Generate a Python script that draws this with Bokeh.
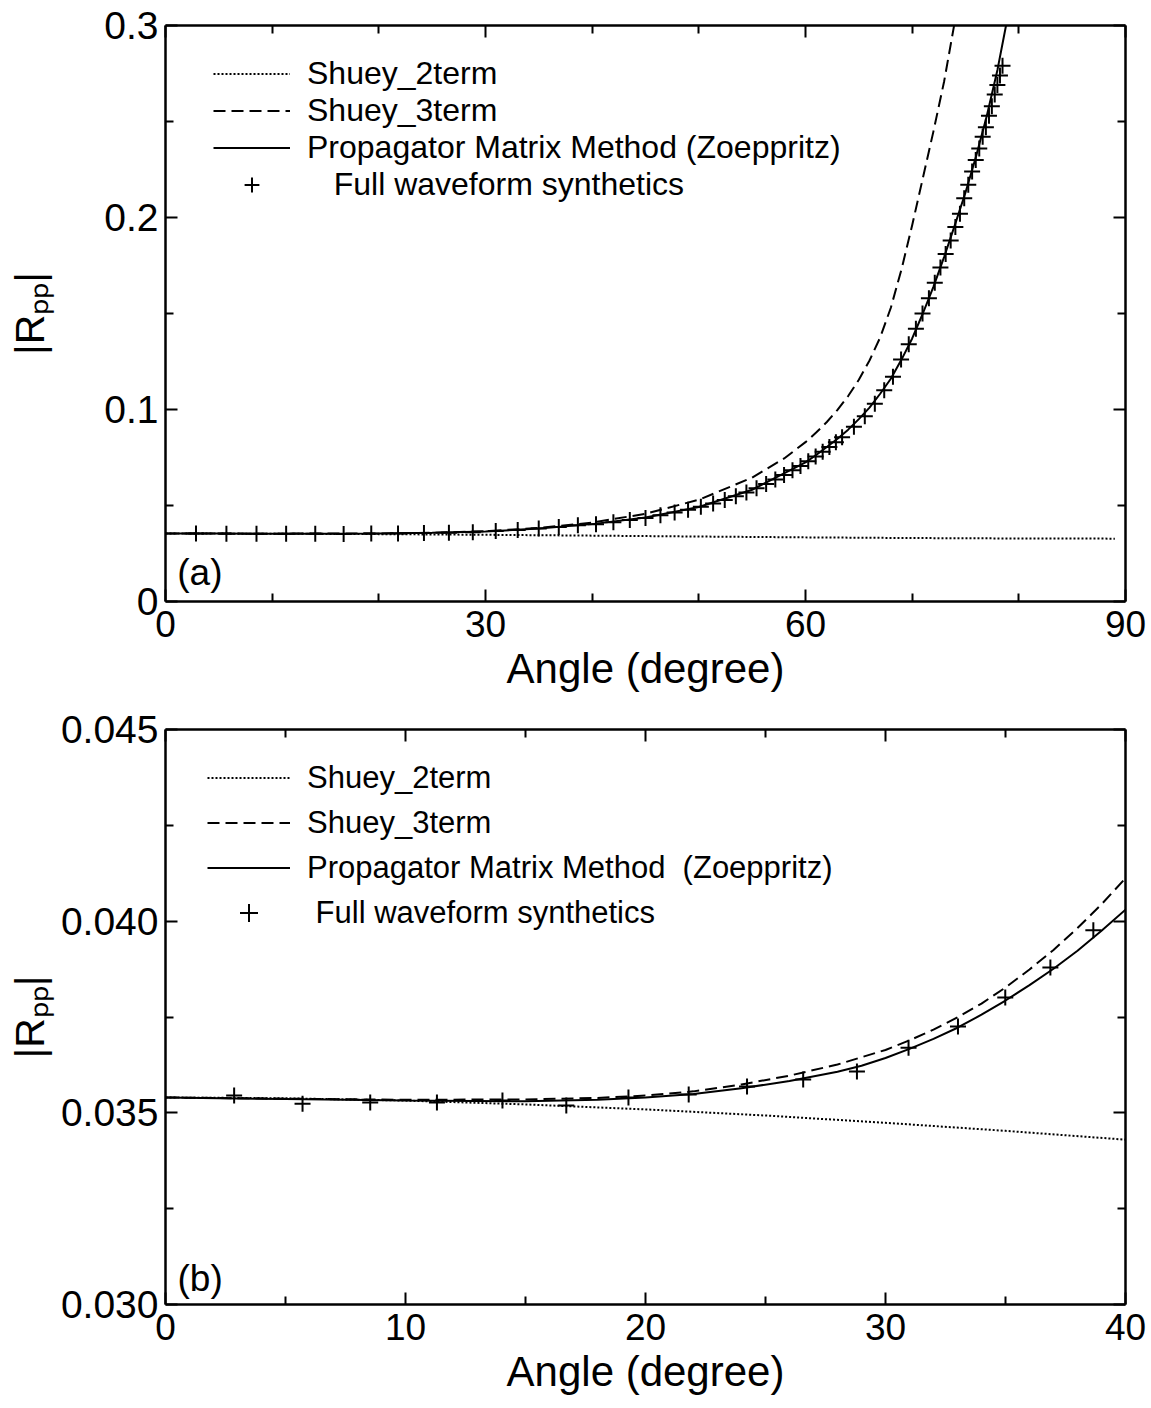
from bokeh.plotting import figure
from bokeh.models import (LinearAxis, FixedTicker, CustomJSTickFormatter, PrintfTickFormatter,
                          Label, Legend, LegendItem, Range1d)
from bokeh.layouts import column
from bokeh.embed import file_html
from bokeh.resources import INLINE

FONT = "Liberation Sans"

# ---------------- data : panel (a) ----------------
a_x_ticks = [0, 30, 60, 90]
a_x_minor = [10, 20, 40, 50, 70, 80]
a_y_ticks = [0, 0.1, 0.2, 0.3]
a_y_minor = [0.05, 0.15, 0.25]

a_shuey2_ang = [0, 10, 20, 30, 40, 50, 60, 70, 80, 89]
a_shuey2_val = [0.0354, 0.03532, 0.03509, 0.03474, 0.0343, 0.03384, 0.0334, 0.03305, 0.03282, 0.03274]

a_shuey3_ang = [0, 10, 20, 25, 30, 35, 40, 45, 50, 55, 58, 60, 61, 62, 63, 64, 65, 66, 67, 68, 69, 70,
                71, 72, 73, 73.9, 74.4]
a_shuey3_val = [0.0354, 0.03533, 0.03545, 0.0358, 0.03663, 0.0383, 0.0411, 0.0457, 0.0530, 0.0645, 0.0745,
                0.0830, 0.0880, 0.0935, 0.0998, 0.1070, 0.1155, 0.1255, 0.1375, 0.1530, 0.1730, 0.1960,
                0.2205, 0.2450, 0.2710, 0.2990, 0.3150]

a_zoep_ang = [0, 5, 10, 15, 20, 25, 30, 35, 40, 45, 50, 55, 60, 61, 62, 63, 64, 65, 66, 67, 68, 69, 70,
              71, 72, 73, 74, 75, 76, 77, 78, 78.8, 79.3]
a_zoep_val = [0.0354, 0.03536, 0.03532, 0.0353, 0.0354, 0.0358, 0.03643, 0.03797, 0.0403, 0.0437, 0.0492,
              0.0582, 0.0725, 0.0763, 0.0805, 0.0848, 0.0895, 0.0950, 0.1010, 0.1082, 0.1160, 0.1260,
              0.1370, 0.1500, 0.1640, 0.1795, 0.1960, 0.2130, 0.2320, 0.2530, 0.2770, 0.3000, 0.3150]

a_fw_ang = [2.86, 5.71, 8.53, 11.31, 14.04, 16.70, 19.29, 21.80, 24.23, 26.57, 28.81, 30.96, 33.02, 34.99,
            36.87, 38.66, 40.36, 41.99, 43.53, 45.00, 46.40, 47.73, 48.99, 50.19, 51.34, 52.43, 53.47,
            54.46, 55.41, 56.31, 57.17, 57.99, 58.78, 59.53, 60.26, 60.95, 61.61, 62.24, 62.85, 63.43,
            64.54, 65.56, 66.50, 67.38, 68.20, 68.96, 69.68, 70.35, 70.97, 71.57, 72.12, 72.65, 73.14,
            73.61, 74.05, 74.48, 74.88, 75.26, 75.62, 75.96, 76.29, 76.61, 76.91, 77.20, 77.47, 77.74,
            77.99, 78.23, 78.47]
a_fw_val = [0.03545, 0.03524, 0.03527, 0.03527, 0.03532, 0.03519, 0.03540, 0.03548, 0.03569, 0.03587,
            0.03608, 0.03670, 0.03725, 0.03801, 0.03879, 0.03976,
            0.0402, 0.0413, 0.0424, 0.0435, 0.0449, 0.0464, 0.0478, 0.0493, 0.0510, 0.0528, 0.0548,
            0.0568, 0.0590, 0.0612, 0.0635, 0.0659, 0.0684, 0.0706, 0.0730, 0.0755, 0.0780, 0.0805,
            0.0830, 0.0855,
            0.091, 0.0965, 0.103, 0.110, 0.117, 0.126, 0.134, 0.142, 0.150, 0.158, 0.166, 0.174, 0.181,
            0.188, 0.195, 0.202, 0.210, 0.217, 0.224, 0.230, 0.236, 0.242, 0.247, 0.253, 0.258, 0.264,
            0.269, 0.274, 0.279]

# ---------------- data : panel (b) ----------------
b_x_ticks = [0, 10, 20, 30, 40]
b_x_minor = [5, 15, 25, 35]
b_y_ticks = [0.030, 0.035, 0.040, 0.045]
b_y_minor = [0.0325, 0.0375, 0.0425]

b_shuey2_ang = [0, 5, 10, 15, 20, 25, 30, 35, 40]
b_shuey2_val = [0.0354, 0.03538, 0.03532, 0.03522, 0.03509, 0.03493, 0.03474, 0.03453, 0.0343]

b_shuey3_ang = [0, 5, 10, 15, 18, 20, 22, 24, 26, 28, 30, 31, 32, 33, 34, 35, 36, 37, 38, 39, 40]
b_shuey3_val = [0.03540, 0.03537, 0.03534, 0.03535, 0.03539, 0.03545, 0.03556, 0.03574, 0.03597, 0.03626,
                0.03664, 0.03689, 0.03717, 0.03749, 0.03785, 0.03827, 0.03874, 0.03925, 0.03982, 0.04044,
                0.04112]

b_zoep_ang = [0, 5, 10, 15, 18, 20, 22, 24, 26, 28, 29, 30, 31, 32, 33, 34, 35, 36, 37, 38, 39, 40]
b_zoep_val = [0.03540, 0.03536, 0.03532, 0.03530, 0.03534, 0.03540, 0.03549, 0.03564, 0.03583, 0.03607,
              0.03623, 0.03643, 0.03667, 0.03693, 0.03722, 0.03756, 0.03793, 0.03833, 0.03876, 0.03923,
              0.03975, 0.04030]

b_fw_ang = [2.86, 5.71, 8.53, 11.31, 14.04, 16.70, 19.29, 21.80, 24.23, 26.57, 28.81, 30.96, 33.02, 34.99,
            36.87, 38.66]
b_fw_val = [0.03545, 0.03524, 0.03527, 0.03527, 0.03532, 0.03519, 0.03540, 0.03548, 0.03569, 0.03587,
            0.03608, 0.03670, 0.03725, 0.03801, 0.03879, 0.03976]

a_labels = ["Shuey_2term", "Shuey_3term", "Propagator Matrix Method (Zoeppritz)",
            "\u00a0\u00a0\u00a0Full waveform synthetics"]
b_labels = ["Shuey_2term", "Shuey_3term", "Propagator Matrix Method\u00a0 (Zoeppritz)",
            "\u00a0Full waveform synthetics"]
x_title = "Angle (degree)"
y_title = "|R\u209a\u209a|"

W = 1151
BL, BR = 165, 26


def style_axis(ax, show, fs="38px"):
    ax.axis_line_width = 2.5
    ax.axis_line_color = "black"
    ax.major_tick_line_width = 2
    ax.minor_tick_line_width = 2
    ax.major_tick_line_color = "black"
    ax.minor_tick_line_color = "black"
    ax.major_tick_in = 12
    ax.major_tick_out = 0
    ax.minor_tick_in = 8
    ax.minor_tick_out = 0
    ax.major_label_text_font = FONT
    ax.major_label_text_color = "black"
    if show:
        ax.major_label_text_font_size = fs
    else:
        ax.major_label_text_font_size = "0px"
        ax.major_label_standoff = 0
        ax.formatter = CustomJSTickFormatter(code="return ''")


def make_panel(height, top, bottom, xr, yr, xt, xm, yt, ym, yfmt, ylab_standoff,
               d2, d3, dz, dfw, labels, tag, leg):
    p = figure(width=W, height=height, x_range=Range1d(*xr), y_range=Range1d(*yr),
               output_backend="svg", toolbar_location=None, title=None,
               min_border_left=BL, min_border_right=BR, min_border_top=top, min_border_bottom=bottom,
               x_axis_location=None, y_axis_location=None)
    p.grid.visible = False
    p.outline_line_color = None
    p.background_fill_color = "white"
    p.border_fill_color = "white"

    xb = LinearAxis(ticker=FixedTicker(ticks=xt, minor_ticks=xm))
    style_axis(xb, True, "37px")
    xb.major_label_standoff = 9
    xb.axis_label = x_title
    xb.axis_label_text_font = FONT
    xb.axis_label_text_font_size = "42px"
    xb.axis_label_text_font_style = "normal"
    xb.axis_label_text_color = "black"
    xb.axis_label_standoff = 5
    p.add_layout(xb, "below")

    yl = LinearAxis(ticker=FixedTicker(ticks=yt, minor_ticks=ym), formatter=yfmt)
    style_axis(yl, True, "39px")
    yl.major_label_standoff = 7
    yl.axis_label = y_title
    yl.axis_label_text_font = FONT
    yl.axis_label_text_font_size = "41px"
    yl.axis_label_text_font_style = "normal"
    yl.axis_label_text_color = "black"
    yl.axis_label_standoff = ylab_standoff
    p.add_layout(yl, "left")

    xa = LinearAxis(ticker=FixedTicker(ticks=xt, minor_ticks=xm))
    style_axis(xa, False)
    p.add_layout(xa, "above")
    yr_ax = LinearAxis(ticker=FixedTicker(ticks=yt, minor_ticks=ym))
    style_axis(yr_ax, False)
    p.add_layout(yr_ax, "right")

    r2 = p.line(d2[0], d2[1], line_color="black", line_width=2, line_dash="2 2")
    r3 = p.line(d3[0], d3[1], line_color="black", line_width=2, line_dash="12 6")
    rz = p.line(dz[0], dz[1], line_color="black", line_width=2)
    rf = p.scatter(dfw[0], dfw[1], marker="cross", size=16, line_color="black", line_width=2)

    legend = Legend(items=[LegendItem(label=labels[0], renderers=[r2]),
                           LegendItem(label=labels[1], renderers=[r3]),
                           LegendItem(label=labels[2], renderers=[rz]),
                           LegendItem(label=labels[3], renderers=[rf])],
                    location=leg["loc"], margin=0, padding=0, spacing=0,
                    glyph_width=leg["gw"], glyph_height=leg["h"], label_height=leg["h"],
                    label_standoff=17, label_text_font=FONT, label_text_font_size=leg["fs"],
                    label_text_color="black", border_line_color=None, background_fill_alpha=0)
    p.add_layout(legend)

    p.add_layout(Label(x=tag[0], y=tag[1], text=tag[2], text_font=FONT, text_font_size="37px",
                       text_color="black", text_baseline="alphabetic", text_align="left"))
    return p


# ---- panel (a): frame x 165..1125, y 25..601 (page px)
H1 = 705
pa = make_panel(H1, 25, H1 - 601, (0, 90), (0, 0.3), a_x_ticks, a_x_minor, a_y_ticks, a_y_minor,
                CustomJSTickFormatter(code="return tick == 0 ? '0' : tick.toFixed(1)"), 48,
                (a_shuey2_ang, a_shuey2_val), (a_shuey3_ang, a_shuey3_val), (a_zoep_ang, a_zoep_val),
                (a_fw_ang, a_fw_val), a_labels, (1.1, 0.0151, "(a)"),
                dict(loc=(48, 576 - 30 - 4 * 37), gw=77, h=37, fs="32px"))

# ---- panel (b): frame x 165..1126, y 729..1304 (page px), figure starts at 705
H2 = 1408 - H1
pb = make_panel(H2, 729 - H1, H2 - (1304 - H1), (0, 40), (0.030, 0.045), b_x_ticks, b_x_minor,
                b_y_ticks, b_y_minor, PrintfTickFormatter(format="%.3f"), 5,
                (b_shuey2_ang, b_shuey2_val), (b_shuey3_ang, b_shuey3_val), (b_zoep_ang, b_zoep_val),
                (b_fw_ang, b_fw_val), b_labels, (0.5, 0.03068, "(b)"),
                dict(loc=(42, 575 - 26 - 4 * 45), gw=83, h=45, fs="31px"))

layout = column(pa, pb, spacing=0)
open("out.html", "w").write(file_html(layout, INLINE))
